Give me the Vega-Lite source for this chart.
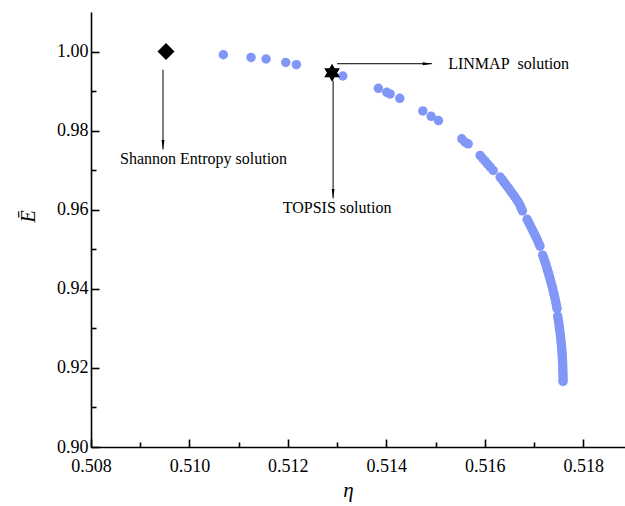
{
  "$schema": "https://vega.github.io/schema/vega-lite/v6.json",
  "width": 534,
  "height": 435,
  "autosize": {"type": "none"},
  "padding": {"left": 91, "top": 12, "right": 0, "bottom": 59},
  "background": "white",
  "config": {
    "view": {"stroke": null},
    "font": "Liberation Serif",
    "axis": {"grid": false, "domainColor": "black", "tickColor": "black", "labelColor": "black", "titleColor": "black", "labelFont": "Liberation Serif", "titleFont": "Liberation Serif", "domainWidth": 1.6, "tickWidth": 1.6}
  },
  "datasets": {
    "front": [
      {"eta": 0.510689, "E": 0.99919},
      {"eta": 0.511252, "E": 0.99851},
      {"eta": 0.511557, "E": 0.99811},
      {"eta": 0.511957, "E": 0.99725},
      {"eta": 0.512173, "E": 0.99667},
      {"eta": 0.513116, "E": 0.99382},
      {"eta": 0.513839, "E": 0.99069},
      {"eta": 0.514010, "E": 0.98968},
      {"eta": 0.514077, "E": 0.98928},
      {"eta": 0.514274, "E": 0.98817},
      {"eta": 0.514742, "E": 0.98499},
      {"eta": 0.514911, "E": 0.98363},
      {"eta": 0.515059, "E": 0.98254},
      {"eta": 0.515534, "E": 0.97793},
      {"eta": 0.515601, "E": 0.97707},
      {"eta": 0.515663, "E": 0.97667},
      {"eta": 0.515906, "E": 0.97372},
      {"eta": 0.515957, "E": 0.97301},
      {"eta": 0.516008, "E": 0.97228},
      {"eta": 0.516059, "E": 0.97155},
      {"eta": 0.516110, "E": 0.97082},
      {"eta": 0.516171, "E": 0.96994},
      {"eta": 0.516313, "E": 0.96825},
      {"eta": 0.516354, "E": 0.96759},
      {"eta": 0.516394, "E": 0.96691},
      {"eta": 0.516435, "E": 0.96625},
      {"eta": 0.516476, "E": 0.96557},
      {"eta": 0.516516, "E": 0.96489},
      {"eta": 0.516557, "E": 0.96419},
      {"eta": 0.516598, "E": 0.96348},
      {"eta": 0.516638, "E": 0.96275},
      {"eta": 0.516679, "E": 0.96199},
      {"eta": 0.516713, "E": 0.96123},
      {"eta": 0.516740, "E": 0.96048},
      {"eta": 0.516766, "E": 0.95972},
      {"eta": 0.516862, "E": 0.95758},
      {"eta": 0.516892, "E": 0.95682},
      {"eta": 0.516923, "E": 0.95606},
      {"eta": 0.516953, "E": 0.95531},
      {"eta": 0.516984, "E": 0.95455},
      {"eta": 0.517014, "E": 0.95379},
      {"eta": 0.517045, "E": 0.95304},
      {"eta": 0.517071, "E": 0.95228},
      {"eta": 0.517098, "E": 0.95152},
      {"eta": 0.517122, "E": 0.95077},
      {"eta": 0.517177, "E": 0.94850},
      {"eta": 0.517199, "E": 0.94774},
      {"eta": 0.517219, "E": 0.94698},
      {"eta": 0.517240, "E": 0.94623},
      {"eta": 0.517258, "E": 0.94547},
      {"eta": 0.517276, "E": 0.94471},
      {"eta": 0.517295, "E": 0.94396},
      {"eta": 0.517313, "E": 0.94320},
      {"eta": 0.517329, "E": 0.94245},
      {"eta": 0.517345, "E": 0.94169},
      {"eta": 0.517362, "E": 0.94093},
      {"eta": 0.517378, "E": 0.94018},
      {"eta": 0.517392, "E": 0.93942},
      {"eta": 0.517406, "E": 0.93866},
      {"eta": 0.517421, "E": 0.93791},
      {"eta": 0.517435, "E": 0.93715},
      {"eta": 0.517447, "E": 0.93639},
      {"eta": 0.517459, "E": 0.93564},
      {"eta": 0.517469, "E": 0.93501},
      {"eta": 0.517482, "E": 0.93311},
      {"eta": 0.517492, "E": 0.93236},
      {"eta": 0.517502, "E": 0.93160},
      {"eta": 0.517510, "E": 0.93084},
      {"eta": 0.517518, "E": 0.93009},
      {"eta": 0.517526, "E": 0.92933},
      {"eta": 0.517535, "E": 0.92857},
      {"eta": 0.517541, "E": 0.92782},
      {"eta": 0.517547, "E": 0.92706},
      {"eta": 0.517553, "E": 0.92630},
      {"eta": 0.517559, "E": 0.92555},
      {"eta": 0.517565, "E": 0.92479},
      {"eta": 0.517569, "E": 0.92403},
      {"eta": 0.517573, "E": 0.92328},
      {"eta": 0.517577, "E": 0.92252},
      {"eta": 0.517581, "E": 0.92176},
      {"eta": 0.517583, "E": 0.92101},
      {"eta": 0.517585, "E": 0.92025},
      {"eta": 0.517587, "E": 0.91950},
      {"eta": 0.517589, "E": 0.91874},
      {"eta": 0.517590, "E": 0.91798},
      {"eta": 0.517591, "E": 0.91723},
      {"eta": 0.517591, "E": 0.91659}
    ]
  },
  "resolve": {"axis": {"x": "independent", "y": "independent"}},
  "layer": [
    {
      "data": {"name": "front"},
      "mark": {"type": "point", "shape": "circle", "filled": true, "size": 90, "color": "#8197F8", "opacity": 1},
      "encoding": {
        "x": {"field": "eta", "type": "quantitative",
          "scale": {"domain": [0.508, 0.51885], "nice": false, "zero": false},
          "axis": {"orient": "bottom", "values": [0.508, 0.510, 0.512, 0.514, 0.516, 0.518], "format": ".3f", "tickSize": -8, "labelPadding": 18, "labelDx": 12, "labelFontSize": 18, "labelFlush": false, "labelOverlap": false,
            "title": "η", "titleFontSize": 21, "titleFontStyle": "italic", "titleFontWeight": "normal", "titlePadding": 4, "titleX": 257}},
        "y": {"field": "E", "type": "quantitative",
          "scale": {"domain": [0.90, 1.01], "nice": false, "zero": false},
          "axis": {"orient": "left", "values": [0.90, 0.92, 0.94, 0.96, 0.98, 1.00], "format": ".2f", "tickSize": -8, "labelPadding": 11, "labelFontSize": 18, "labelFlush": false, "labelOverlap": false,
            "title": "Ē", "titleFontSize": 20, "titleFontStyle": "italic", "titleFontWeight": "normal", "titlePadding": 18, "titleY": 204}}
      }
    },
    {
      "data": {"values": [{"eta": 0.509524, "E": 1.000}]},
      "mark": {"type": "point", "shape": "diamond", "filled": true, "size": 289, "color": "black", "opacity": 1},
      "encoding": {
        "x": {"field": "eta", "type": "quantitative",
          "axis": {"orient": "bottom", "values": [0.509, 0.511, 0.513, 0.515, 0.517], "tickSize": -5, "labels": false, "domain": false, "title": null}},
        "y": {"field": "E", "type": "quantitative",
          "axis": {"orient": "left", "values": [0.91, 0.93, 0.95, 0.97, 0.99], "tickSize": -5, "labels": false, "domain": false, "title": null}}
      }
    },
    {
      "data": {"values": [{"eta": 0.512898, "E": 0.99466}]},
      "mark": {"type": "point", "shape": "M0,-1L0.866,0.5L-0.866,0.5ZM0,1L-0.866,-0.5L0.866,-0.5Z", "filled": true, "size": 324, "color": "black", "opacity": 1},
      "encoding": {
        "x": {"field": "eta", "type": "quantitative", "axis": null},
        "y": {"field": "E", "type": "quantitative", "axis": null}
      }
    },
    {
      "data": {"values": [
        {"eta": 0.509463, "E": 0.99541, "eta2": 0.509463, "E2": 0.97523},
        {"eta": 0.513000, "E": 0.99692, "eta2": 0.514931, "E2": 0.99692},
        {"eta": 0.512919, "E": 0.99263, "eta2": 0.512919, "E2": 0.96287}
      ]},
      "mark": {"type": "rule", "color": "black", "strokeWidth": 1},
      "encoding": {
        "x": {"field": "eta", "type": "quantitative", "axis": null},
        "y": {"field": "E", "type": "quantitative", "axis": null},
        "x2": {"field": "eta2"},
        "y2": {"field": "E2"}
      }
    },
    {
      "data": {"values": [
        {"eta": 0.509463, "E": 0.97642},
        {"eta": 0.512919, "E": 0.96406}
      ]},
      "mark": {"type": "point", "shape": "M-0.3,-1L0.3,-1L0,1Z", "filled": true, "size": 90, "color": "black", "opacity": 1},
      "encoding": {
        "x": {"field": "eta", "type": "quantitative", "axis": null},
        "y": {"field": "E", "type": "quantitative", "axis": null}
      }
    },
    {
      "data": {"values": [
        {"eta": 0.514835, "E": 0.99692}
      ]},
      "mark": {"type": "point", "shape": "M-1,-0.3L-1,0.3L1,0Z", "filled": true, "size": 90, "color": "black", "opacity": 1},
      "encoding": {
        "x": {"field": "eta", "type": "quantitative", "axis": null},
        "y": {"field": "E", "type": "quantitative", "axis": null}
      }
    },
    {
      "data": {"values": [
        {"eta": 0.510287, "E": 0.97271, "label": "Shannon Entropy solution"},
        {"eta": 0.516486, "E": 0.99692, "label": "LINMAP\u00a0 solution"},
        {"eta": 0.513000, "E": 0.96035, "label": "TOPSIS solution"}
      ]},
      "mark": {"type": "text", "font": "Liberation Serif", "fontSize": 16, "color": "black", "align": "center", "baseline": "middle"},
      "encoding": {
        "x": {"field": "eta", "type": "quantitative", "axis": null},
        "y": {"field": "E", "type": "quantitative", "axis": null},
        "text": {"field": "label"}
      }
    }
  ]
}
